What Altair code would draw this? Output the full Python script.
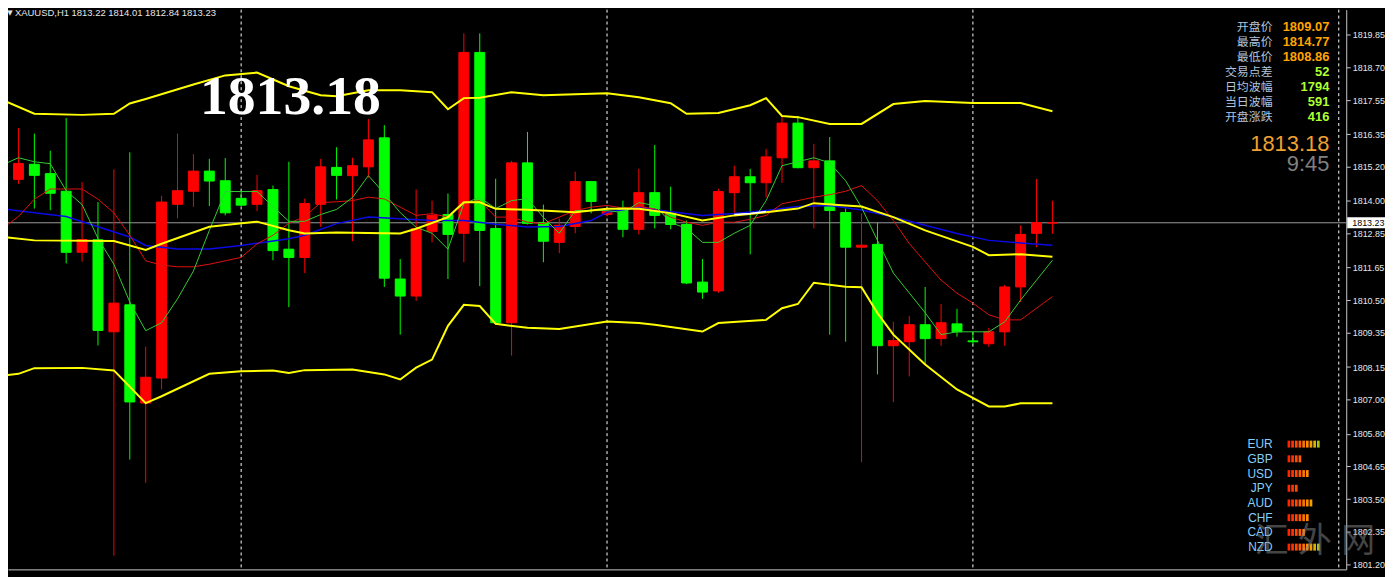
import altair as alt
import pandas as pd

# ---------------- candle data (H1 bars, index 0..66) ----------------
OPEN = [1817.17, 1814.76, 1815.29, 1814.96, 1814.34, 1812.19, 1812.63, 1809.39, 1810.34, 1806.88,
        1807.76, 1813.88, 1814.34, 1815.05, 1814.71, 1814.09, 1813.88, 1814.40, 1812.30, 1812.01,
        1813.88, 1815.18, 1814.89, 1815.20, 1816.22, 1811.25, 1810.65, 1812.93, 1813.52, 1812.86,
        1819.23, 1813.03, 1809.71, 1815.34, 1813.24, 1812.54, 1813.10, 1814.68, 1813.52, 1813.77,
        1813.00, 1814.29, 1813.56, 1813.17, 1811.14, 1810.83, 1814.29, 1814.85, 1814.64, 1815.52,
        1816.74, 1815.17, 1815.41, 1813.59, 1812.37, 1812.47, 1808.90, 1809.04, 1809.64, 1809.15,
        1809.67, 1809.07, 1808.97, 1809.39, 1810.97, 1812.86, 1813.22]
HIGH = [1819.06, 1816.57, 1816.37, 1815.77, 1816.92, 1814.66, 1813.96, 1815.11, 1815.71, 1808.87,
        1814.18, 1816.37, 1815.65, 1815.48, 1815.51, 1814.36, 1814.92, 1814.54, 1815.38, 1814.08,
        1815.48, 1815.89, 1815.52, 1816.88, 1816.67, 1811.95, 1814.40, 1814.01, 1814.26, 1819.90,
        1819.90, 1814.78, 1815.41, 1816.43, 1813.87, 1813.38, 1815.03, 1814.70, 1813.70, 1814.01,
        1815.13, 1815.97, 1814.50, 1813.31, 1811.95, 1814.43, 1815.24, 1815.13, 1815.83, 1816.99,
        1816.99, 1816.01, 1816.25, 1813.73, 1813.56, 1813.24, 1809.74, 1809.95, 1810.97, 1810.37,
        1810.20, 1809.39, 1809.53, 1811.04, 1813.14, 1814.77, 1814.01]
LOW = [1814.30, 1814.60, 1813.73, 1813.67, 1811.80, 1811.86, 1808.91, 1801.51, 1804.89, 1804.07,
       1807.36, 1813.39, 1813.79, 1813.82, 1813.49, 1813.82, 1813.64, 1811.91, 1810.26, 1811.46,
       1813.09, 1814.05, 1812.58, 1814.82, 1810.97, 1809.29, 1810.48, 1812.54, 1811.25, 1811.84,
       1811.00, 1809.65, 1808.55, 1813.17, 1811.84, 1812.16, 1812.86, 1813.56, 1813.45, 1812.72,
       1812.82, 1813.03, 1813.00, 1811.07, 1810.55, 1810.76, 1813.56, 1812.12, 1814.12, 1814.64,
       1815.15, 1813.03, 1809.29, 1809.04, 1804.80, 1807.89, 1806.91, 1807.82, 1808.24, 1808.90,
       1809.22, 1808.94, 1808.86, 1808.90, 1810.44, 1812.37, 1812.84]
CLOSE = [1814.76, 1815.32, 1814.90, 1814.27, 1812.19, 1812.64, 1809.44, 1810.40, 1806.92, 1807.79,
         1813.96, 1814.36, 1815.05, 1814.70, 1813.58, 1813.85, 1814.36, 1812.25, 1812.01, 1813.91,
         1815.20, 1814.90, 1815.24, 1816.15, 1811.28, 1810.65, 1813.03, 1813.49, 1812.82, 1819.23,
         1812.96, 1809.71, 1815.34, 1813.21, 1812.58, 1813.14, 1814.68, 1813.98, 1813.63, 1813.00,
         1814.29, 1813.49, 1813.17, 1811.11, 1810.79, 1814.33, 1814.85, 1814.64, 1815.55, 1816.74,
         1815.17, 1815.41, 1813.66, 1812.37, 1812.44, 1808.90, 1809.08, 1809.64, 1809.15, 1809.71,
         1809.39, 1809.04, 1809.39, 1810.97, 1812.82, 1813.24, 1813.23]

# ---------------- indicator lines ----------------
MA_FAST = [1815.27, 1815.52, 1815.38, 1815.31, 1814.36, 1813.87, 1812.68, 1811.77, 1810.44, 1809.43,
           1809.71, 1810.55, 1811.53, 1812.96, 1814.33, 1814.33, 1814.33, 1813.80, 1813.28, 1813.28,
           1813.52, 1813.70, 1814.12, 1814.89, 1814.26, 1813.59, 1813.07, 1812.86, 1812.30, 1813.91,
           1814.12, 1813.73, 1814.01, 1814.08, 1813.42, 1812.86, 1813.66, 1813.66, 1813.66, 1813.59,
           1813.94, 1813.84, 1813.24, 1813.03, 1812.54, 1812.54, 1812.86, 1813.14, 1814.01, 1815.24,
           1815.38, 1815.52, 1815.34, 1814.71, 1813.77, 1812.61, 1811.46, 1810.76, 1810.06, 1809.29,
           1809.39, 1809.39, 1809.39, 1809.74, 1810.51, 1811.21, 1811.91]
MA_MID = [1813.03, 1813.45, 1814.06, 1814.42, 1814.42, 1814.42, 1814.06, 1813.58, 1812.79, 1811.89,
          1811.74, 1811.68, 1811.68, 1811.77, 1811.89, 1812.01, 1812.49, 1812.79, 1813.21, 1813.45,
          1813.94, 1813.97, 1814.01, 1814.13, 1814.07, 1813.78, 1813.49, 1813.55, 1813.43, 1813.95,
          1814.01, 1813.43, 1813.43, 1813.25, 1813.20, 1813.43, 1813.66, 1813.78, 1813.84, 1813.75,
          1813.80, 1813.72, 1813.43, 1813.25, 1813.14, 1813.25, 1813.25, 1813.35, 1813.49, 1813.90,
          1814.01, 1814.13, 1814.22, 1814.34, 1814.54, 1814.01, 1813.31, 1812.50, 1811.85, 1811.21,
          1810.75, 1810.40, 1809.99, 1809.81, 1809.81, 1810.22, 1810.63]

MA_SLOW_IDX = [0, 2, 4, 6, 8, 9, 11, 13, 15, 18, 19, 21, 23, 25, 27, 29, 31, 33, 35, 37,
               38, 40, 42, 44, 46, 48, 50, 52, 54, 56, 58, 60, 62, 64, 66]
MA_SLOW = [1813.72, 1813.58, 1813.45, 1813.09, 1812.73, 1812.43, 1812.31, 1812.31, 1812.43, 1812.67,
           1812.79, 1813.20, 1813.43, 1813.37, 1813.31, 1813.31, 1813.18, 1813.08, 1813.10, 1813.31,
           1813.60, 1813.78, 1813.62, 1813.49, 1813.56, 1813.66, 1813.80, 1813.84, 1813.68, 1813.43,
           1813.14, 1812.85, 1812.61, 1812.52, 1812.44]

BB_UP_IDX = [0, 2, 5, 7, 8, 9, 12, 14, 16, 18, 20, 21, 23, 25, 27, 28, 29, 30, 32, 34,
             36, 38, 40, 42, 43, 45, 47, 48, 49, 50, 52, 54, 56, 58, 61, 64, 66]
BB_UP = [1817.55, 1817.07, 1817.03, 1817.07, 1817.43, 1817.59, 1818.10, 1818.42, 1818.52, 1818.04,
         1817.72, 1817.69, 1817.90, 1817.90, 1817.83, 1817.23, 1817.62, 1817.63, 1817.83, 1817.72,
         1817.76, 1817.79, 1817.65, 1817.44, 1817.07, 1817.10, 1817.37, 1817.62, 1816.99, 1816.95,
         1816.71, 1816.71, 1817.41, 1817.52, 1817.45, 1817.45, 1817.16]

BB_MID_IDX = [0, 2, 7, 9, 10, 13, 16, 18, 19, 21, 25, 26, 28, 29, 30, 31, 33, 36, 38, 40,
              42, 44, 46, 48, 50, 51, 53, 54, 56, 58, 61, 62, 64, 66]
BB_MID = [1812.73, 1812.61, 1812.59, 1812.27, 1812.49, 1813.09, 1813.27, 1812.97, 1812.85, 1812.89,
          1812.85, 1813.02, 1813.43, 1813.95, 1813.95, 1813.72, 1813.69, 1813.60, 1813.72, 1813.72,
          1813.57, 1813.31, 1813.49, 1813.60, 1813.73, 1813.92, 1813.84, 1813.80, 1813.43, 1812.96,
          1812.38, 1812.09, 1812.12, 1812.03]

BB_LOW_IDX = [0, 1, 2, 5, 7, 9, 10, 13, 15, 17, 18, 19, 22, 24, 25, 26, 27, 28, 29, 30,
              31, 33, 35, 38, 40, 41, 44, 45, 48, 49, 50, 51, 53, 54, 55, 56, 58, 60, 62, 63,
              64, 66]
BB_LOW = [1807.85, 1807.91, 1808.11, 1808.12, 1808.03, 1806.88, 1807.12, 1807.91, 1808.00, 1808.03,
          1807.94, 1808.04, 1808.06, 1807.89, 1807.71, 1808.13, 1808.41, 1809.60, 1810.34, 1810.30,
          1809.67, 1809.53, 1809.49, 1809.75, 1809.70, 1809.64, 1809.40, 1809.70, 1809.81, 1810.22,
          1810.37, 1811.12, 1810.98, 1810.96, 1810.05, 1809.29, 1808.24, 1807.36, 1806.76, 1806.76,
          1806.87, 1806.87]

WHITE_IDX = [46, 47, 48]
WHITE = [1813.52, 1813.56, 1813.63]

DAY_SEPARATORS = [15, 38, 61, 84]
LAST_PRICE = 1813.23
Y_TICKS = [1819.85, 1818.70, 1817.55, 1816.35, 1815.20, 1814.00, 1812.85, 1811.65, 1810.50,
           1809.35, 1808.15, 1807.00, 1805.80, 1804.65, 1803.50, 1802.35, 1801.20]

HEADER = "XAUUSD,H1  1813.22 1814.01 1812.84 1813.23"
BIG_PRICE = "1813.18"

INFO_LABELS = ["开盘价", "最高价", "最低价", "交易点差", "日均波幅", "当日波幅", "开盘涨跌"]
INFO_VALUES = ["1809.07", "1814.77", "1808.86", "52", "1794", "591", "416"]
INFO_KIND = ["price", "price", "price", "stat", "stat", "stat", "stat"]
CLOCK = "9:45"

CURRENCIES = ["EUR", "GBP", "USD", "JPY", "AUD", "CHF", "CAD", "NZD"]
STRENGTH = [9, 4, 6, 3, 7, 6, 5, 9]
SEG_COLORS = ["#ff2400", "#ff3600", "#ff4a00", "#ff5e00", "#ff7400", "#ff8a00", "#f2a000", "#d6b400", "#a8c400"]

WATERMARK = ["汇", "外", "网"]

# ---------------- scales & axes ----------------
X_SCALE = alt.Scale(domain=[0.34375, 84.46875], nice=False, zero=False, padding=0)
Y_SCALE = alt.Scale(domain=[1801.023, 1820.736], nice=False, zero=False, padding=0)
DIR_SCALE = alt.Scale(domain=["up", "down"], range=["#ff0000", "#00ff00"])

X_AXIS = alt.Axis(orient="bottom", labels=False, ticks=False, grid=False, title=None,
                  domainColor="#c8c8c8", domainWidth=1)
Y_AXIS = alt.Axis(orient="right", values=Y_TICKS, format=".2f", title=None, grid=False,
                  labelColor="#e6e6e6", labelFont="Liberation Sans", labelFontSize=9,
                  tickColor="#c8c8c8", tickSize=4, domainColor="#c8c8c8", labelPadding=2,
                  labelOverlap=False, labelFlush=False, labelBound=False)

candles = pd.DataFrame({"k": list(range(len(OPEN))), "o": OPEN, "h": HIGH, "l": LOW, "c": CLOSE})


def line_df(idx, vals):
    return pd.DataFrame({"k": idx, "v": vals})


def xk(field="k"):
    return alt.X(f"{field}:Q", scale=X_SCALE, axis=X_AXIS)


def yv(field="v"):
    return alt.Y(f"{field}:Q", scale=Y_SCALE, axis=Y_AXIS)


one = pd.DataFrame({"a": [0]})

separators = alt.Chart(pd.DataFrame({"k": DAY_SEPARATORS})).mark_rule(
    color="#ffffff", strokeWidth=1, strokeDash=[3, 3]).encode(x=xk())

price_line = alt.Chart(pd.DataFrame({"p": [LAST_PRICE]})).mark_rule(
    color="#9a9a9a", strokeWidth=1).encode(y=yv("p"))

wicks = alt.Chart(candles).transform_calculate(
    dir="datum.c >= datum.o ? 'up' : 'down'").mark_rule(strokeWidth=1).encode(
    x=xk(), y=yv("l"), y2="h:Q",
    color=alt.Color("dir:N", scale=DIR_SCALE, legend=None))

bodies = alt.Chart(candles).transform_calculate(
    dir="datum.c >= datum.o ? 'up' : 'down'").mark_bar(size=10, strokeWidth=1).encode(
    x=xk(), y=yv("o"), y2="c:Q",
    color=alt.Color("dir:N", scale=DIR_SCALE, legend=None),
    stroke=alt.Stroke("dir:N", scale=DIR_SCALE, legend=None))


def mline(idx, vals, color, width):
    return alt.Chart(line_df(idx, vals)).mark_line(color=color, strokeWidth=width).encode(
        x=xk(), y=yv())


n = len(OPEN)
slow = mline(MA_SLOW_IDX, MA_SLOW, "#0a0ae6", 1.5)
mid_ma = mline(list(range(n)), MA_MID, "#e01010", 1)
fast = mline(list(range(n)), MA_FAST, "#33cc33", 1)
bb_up = mline(BB_UP_IDX, BB_UP, "#ffff00", 2)
bb_mid = mline(BB_MID_IDX, BB_MID, "#ffff00", 2)
bb_low = mline(BB_LOW_IDX, BB_LOW, "#ffff00", 2)
white = mline(WHITE_IDX, WHITE, "#ffffff", 1.5)

# current price tag on the axis
tag = alt.Chart(pd.DataFrame({"p": [LAST_PRICE]})).mark_point(
    shape="M-1,-0.29H1V0.29H-1Z", filled=True, size=1444, color="#ffffff", opacity=1,
    strokeWidth=0).encode(x=alt.value(1366), y=yv("p"))
tag_text = alt.Chart(pd.DataFrame({"p": [LAST_PRICE]})).mark_text(
    align="left", baseline="middle", font="Liberation Sans", fontSize=9, color="#000000").encode(
    x=alt.value(1352), y=yv("p"), text=alt.Text("p:Q", format=".2f"))

header = alt.Chart(one).mark_text(
    align="left", baseline="middle", font="Liberation Sans", fontSize=9.5, color="#e6e6e6").encode(
    x=alt.value(7), y=alt.value(3.5), text=alt.value(HEADER))
tri = alt.Chart(one).mark_text(
    align="center", baseline="middle", font="DejaVu Sans", fontSize=7, color="#e6e6e6").encode(
    x=alt.value(2), y=alt.value(3.5), text=alt.value("▼"))

big = alt.Chart(one).mark_text(
    align="center", baseline="alphabetic", font="Liberation Serif", fontSize=56, fontWeight="bold",
    color="#ffffff").encode(x=alt.value(284), y=alt.value(105), text=alt.value(BIG_PRICE))

info = pd.DataFrame({"row": list(range(len(INFO_LABELS))), "label": INFO_LABELS,
                     "value": INFO_VALUES, "kind": INFO_KIND})
info_labels = alt.Chart(info).transform_calculate(py="17.7 + 15.1 * datum.row").mark_text(
    align="right", baseline="middle", font="Noto Sans CJK SC", fontSize=12, color="#b0c4de").encode(
    x=alt.value(1272), y=alt.Y("py:Q", scale=None), text="label:N")
info_values = alt.Chart(info).transform_calculate(py="17.7 + 15.1 * datum.row").mark_text(
    align="right", baseline="middle", font="Liberation Sans", fontSize=13, fontWeight="bold").encode(
    x=alt.value(1329), y=alt.Y("py:Q", scale=None), text="value:N",
    color=alt.Color("kind:N", scale=alt.Scale(domain=["price", "stat"], range=["#ffa500", "#adff2f"]),
                    legend=None))

big_price = alt.Chart(one).mark_text(
    align="right", baseline="alphabetic", font="Liberation Sans", fontSize=22, color="#f0a030").encode(
    x=alt.value(1329), y=alt.value(142), text=alt.value(BIG_PRICE))
clock = alt.Chart(one).mark_text(
    align="right", baseline="alphabetic", font="Liberation Sans", fontSize=22, color="#808080").encode(
    x=alt.value(1329), y=alt.value(162), text=alt.value(CLOCK))

cur = pd.DataFrame({"row": list(range(len(CURRENCIES))), "name": CURRENCIES, "n": STRENGTH})
cur_labels = alt.Chart(cur).transform_calculate(py="437 + 14.8 * datum.row").mark_text(
    align="right", baseline="middle", font="Liberation Sans", fontSize=12, color="#87cefa").encode(
    x=alt.value(1272), y=alt.Y("py:Q", scale=None), text="name:N")

segs = pd.DataFrame([{"row": r, "s": s} for r, cnt in enumerate(STRENGTH) for s in range(cnt)])
cur_bars = alt.Chart(segs).transform_calculate(
    px="1287 + 3.7 * datum.s", px2="1287 + 3.7 * datum.s + 2.7",
    py="437 + 14.8 * datum.row - 3.5", py2="437 + 14.8 * datum.row + 3.5").mark_rect().encode(
    x=alt.X("px:Q", scale=None), x2="px2:Q", y=alt.Y("py:Q", scale=None), y2="py2:Q",
    color=alt.Color("s:O", scale=alt.Scale(domain=list(range(9)), range=SEG_COLORS), legend=None))

wm = pd.DataFrame({"i": list(range(len(WATERMARK))), "ch": WATERMARK})
watermark = alt.Chart(wm).transform_calculate(px="1271 + 43.5 * datum.i").mark_text(
    align="center", baseline="middle", font="Noto Sans CJK SC", fontSize=34, color="#8a8a8a",
    opacity=0.5).encode(x=alt.X("px:Q", scale=None), y=alt.value(536), text="ch:N")

chart = alt.layer(
    separators, price_line, wicks, bodies, slow, mid_ma, fast, bb_up, bb_mid, bb_low, white,
    big, header, tri, tag, tag_text, info_labels, info_values, big_price, clock,
    cur_labels, cur_bars, watermark
).resolve_scale(color="independent", stroke="independent").properties(
    width=1346, height=563, background="#000000", autosize="none",
    padding={"left": 0, "top": 0, "right": 39, "bottom": 6}
).configure_view(strokeWidth=0)

chart.save("out.html", embed_options={"renderer": "svg", "actions": False})
